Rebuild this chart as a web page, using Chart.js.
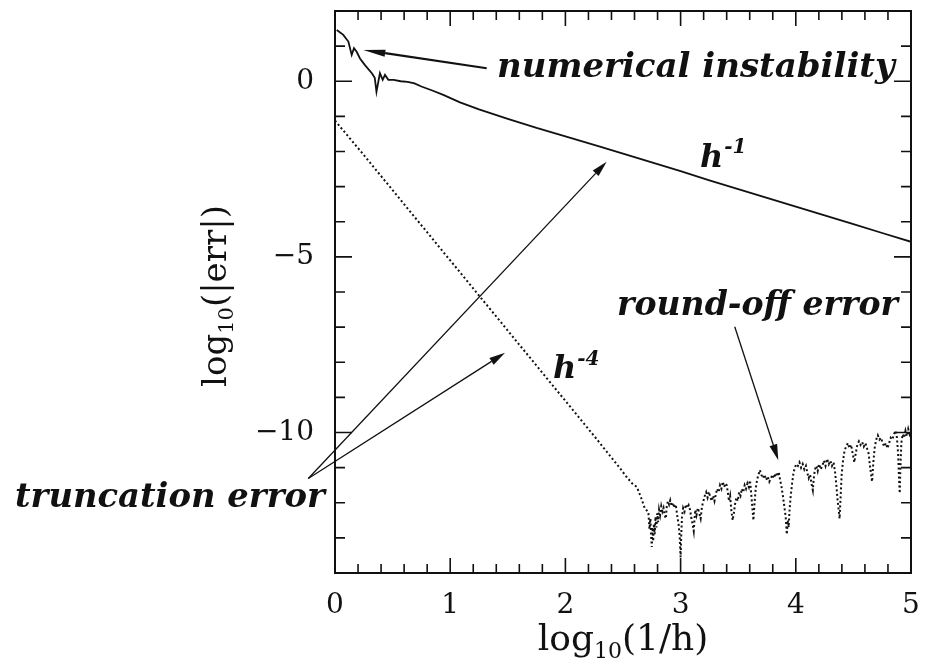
<!DOCTYPE html>
<html>
<head>
<meta charset="utf-8">
<script src="https://cdn.jsdelivr.net/npm/chart.js@4.4.0/dist/chart.umd.min.js"></script>
<style>
  html, body { margin: 0; padding: 0; background: #fff; }
</style>
</head>
<body>
<canvas id="err" width="927" height="665"></canvas>
<script>
// log10(1/h) vs log10(|err|) for two difference schemes

// first-order scheme: noisy start, then the h^-1 slope
const solidX = [0.015, 0.072, 0.116, 0.145, 0.165, 0.188, 0.217, 0.26, 0.32, 0.345, 0.36, 0.39, 0.414, 0.434, 0.463, 0.51, 0.57, 0.63, 0.69, 0.75, 0.85, 0.94, 1.085,
  1.25, 1.5, 1.75, 2.0, 2.3, 2.5, 2.75, 3.0, 3.25, 3.5, 3.75, 4.0, 4.25, 4.5, 4.75, 5.0];
const solidY = [1.46, 1.32, 1.13, 0.75, 0.94, 0.84, 0.65, 0.46, 0.23, 0.1, -0.30, 0.23, 0.04, 0.18, 0.04, 0.04, 0.0, -0.02, -0.06, -0.15, -0.27, -0.39, -0.60,
  -0.80, -1.07, -1.33, -1.57, -1.86, -2.06, -2.31, -2.56, -2.82, -3.07, -3.32, -3.57, -3.82, -4.07, -4.32, -4.57];

// fourth-order scheme: h^-4 slope ...
const slopeX = [0, 0.25, 0.5, 0.75, 1.0, 1.25, 1.5, 1.75, 2.0, 2.25, 2.47, 2.53, 2.58, 2.62, 2.66, 2.69];
const slopeY = [-1.12, -2.1, -3.1, -4.1, -5.1, -6.1, -7.1, -8.1, -9.1, -10.1, -11.0, -11.26, -11.45, -11.55, -11.88, -12.17];

// ... until round-off takes over
const noiseX = [2.720, 2.730, 2.738, 2.745, 2.750, 2.756, 2.762, 2.768, 2.775, 2.782, 2.790, 2.797, 2.805, 2.813, 2.822, 2.832, 2.842, 2.852, 2.862, 2.872,
  2.880, 2.890, 2.900, 2.910, 2.922, 2.934, 2.946, 2.958, 2.970, 2.982, 2.992, 3.000, 3.006, 3.012, 3.022, 3.034, 3.046, 3.058, 3.070, 3.082,
  3.094, 3.104, 3.114, 3.120, 3.128, 3.138, 3.150, 3.162, 3.174, 3.186, 3.198, 3.210, 3.222, 3.234, 3.246, 3.258, 3.270, 3.282, 3.294, 3.306,
  3.318, 3.330, 3.342, 3.354, 3.366, 3.378, 3.390, 3.400, 3.410, 3.420, 3.430, 3.440, 3.452, 3.462, 3.472, 3.484, 3.496, 3.508, 3.520, 3.532,
  3.544, 3.556, 3.568, 3.580, 3.592, 3.602, 3.612, 3.622, 3.632, 3.642, 3.652, 3.664, 3.676, 3.688, 3.700, 3.714, 3.728, 3.742, 3.756, 3.770,
  3.784, 3.798, 3.812, 3.826, 3.840, 3.852, 3.864, 3.876, 3.888, 3.900, 3.912, 3.922, 3.930, 3.938, 3.946, 3.956, 3.968, 3.980, 3.992, 4.004,
  4.018, 4.032, 4.046, 4.060, 4.074, 4.088, 4.100, 4.112, 4.124, 4.136, 4.148, 4.156, 4.166, 4.178, 4.190, 4.202, 4.216, 4.230, 4.244, 4.258,
  4.272, 4.286, 4.300, 4.314, 4.328, 4.340, 4.352, 4.362, 4.372, 4.380, 4.388, 4.398, 4.410, 4.424, 4.438, 4.452, 4.466, 4.480, 4.494, 4.508,
  4.520, 4.534, 4.548, 4.562, 4.576, 4.590, 4.604, 4.618, 4.632, 4.644, 4.654, 4.662, 4.672, 4.684, 4.698, 4.712, 4.726, 4.740, 4.754, 4.768,
  4.782, 4.796, 4.810, 4.824, 4.838, 4.852, 4.866, 4.878, 4.888, 4.896, 4.902, 4.908, 4.916, 4.928, 4.940, 4.952, 4.964, 4.976, 4.988, 5.000];
const noiseY = [-12.26, -12.75, -12.45, -13.0, -13.26, -12.7, -13.1, -12.6, -12.9, -12.4, -12.7, -12.3, -12.55, -12.2, -12.35, -12.1, -12.25, -12.15, -12.35, -12.45,
  -12.1, -11.95, -12.05, -11.93, -12.1, -12.0, -12.15, -12.05, -12.35, -12.6, -12.95, -13.55, -12.9, -12.4, -12.15, -12.25, -12.05, -12.15, -12.07, -12.2,
  -12.45, -12.6, -12.8, -12.5, -12.2, -12.35, -12.15, -12.3, -12.45, -12.1, -11.95, -11.8, -11.7, -11.85, -11.69, -11.85, -11.95, -11.8, -11.95, -11.75,
  -11.6, -11.7, -11.5, -11.6, -11.4, -11.55, -11.45, -11.5, -11.7, -11.95, -11.8, -12.2, -12.5, -12.3, -12.05, -11.85, -11.95, -11.7, -11.8, -11.6,
  -11.7, -11.5, -11.6, -11.45, -11.55, -11.36, -11.7, -12.1, -12.5, -12.0, -11.6, -11.35, -11.2, -11.07, -11.2, -11.3, -11.2, -11.35, -11.25, -11.4,
  -11.3, -11.2, -11.3, -11.15, -11.25, -11.12, -11.35, -11.55, -11.8, -12.1, -12.4, -12.9, -12.5, -12.7, -12.2, -11.8, -11.45, -11.15, -11.0, -10.9,
  -10.95, -10.85, -11.0, -10.9, -11.05, -10.95, -11.15, -11.3, -11.2, -11.45, -11.64, -11.3, -11.05, -10.95, -11.1, -10.9, -11.05, -10.95, -10.8, -10.95,
  -10.75, -10.9, -10.8, -10.95, -10.85, -11.1, -11.5, -11.9, -12.2, -12.45, -11.9, -11.2, -10.8, -10.5, -10.4, -10.3, -10.45, -10.35, -10.6, -10.85,
  -10.6, -10.35, -10.25, -10.35, -10.27, -10.4, -10.3, -10.45, -10.6, -10.95, -11.2, -11.4, -10.9, -10.45, -10.2, -10.08, -10.2, -10.15, -10.3, -10.4,
  -10.3, -10.45, -10.3, -10.15, -10.2, -10.05, -9.95, -10.15, -10.6, -11.3, -11.73, -11.0, -10.3, -10.05, -10.15, -9.95, -10.1, -9.9, -10.05, -9.95];

// tick values that carry a label
const xLabelValues = [0, 1, 2, 3, 4, 5];
const yLabelValues = [0, -5, -10];

const solidPts = solidX.map((x, i) => ({ x, y: solidY[i] }));
const dottedPts = slopeX.concat(noiseX).map((x, i) => ({ x, y: slopeY.concat(noiseY)[i] }));

const INK = '#111';
const SERIF = '"DejaVu Serif", "Liberation Serif", serif';

// callouts, anchored in data units
const notes = [
  { text: 'numerical instability', x: 1.406, y: 0.12, width: 398, size: 30 },
  { text: 'truncation error', x: -2.778, y: -12.12, width: 310, size: 30 },
  { text: 'round-off error', x: 2.448, y: -6.66, width: 281, size: 30 },
  { text: 'h', sup: '-1', x: 3.168, y: -2.43, size: 32 },
  { text: 'h', sup: '-4', x: 1.892, y: -8.45, size: 32 }
];
const arrows = [
  { from: [1.317, 0.37], to: [0.246, 0.89], width: 2.2, head: 22, half: 3.5 },
  { from: [-0.232, -11.31], to: [2.358, -2.29], width: 1.3, head: 16, half: 4 },
  { from: [-0.232, -11.31], to: [1.476, -7.73], width: 1.3, head: 16, half: 4 },
  { from: [3.47, -6.99], to: [3.848, -10.79], width: 1.3, head: 16, half: 4 }
];

function arrow(ctx, x0, y0, x1, y1, a) {
  const ang = Math.atan2(y1 - y0, x1 - x0);
  const bx = x1 - Math.cos(ang) * a.head, by = y1 - Math.sin(ang) * a.head;
  ctx.lineWidth = a.width;
  ctx.beginPath();
  ctx.moveTo(x0, y0);
  ctx.lineTo(bx, by);
  ctx.stroke();
  ctx.beginPath();
  ctx.moveTo(x1, y1);
  ctx.lineTo(bx + Math.sin(ang) * a.half, by - Math.cos(ang) * a.half);
  ctx.lineTo(bx - Math.sin(ang) * a.half, by + Math.cos(ang) * a.half);
  ctx.closePath();
  ctx.fill();
}

// text with a smaller lowered "10"
function logLabel(ctx, before, after, size) {
  const sub = Math.round(size * 0.62);
  ctx.font = size + 'px ' + SERIF;
  const w1 = ctx.measureText(before).width;
  const w3 = ctx.measureText(after).width;
  ctx.font = sub + 'px ' + SERIF;
  const w2 = ctx.measureText('10').width;
  const total = w1 + w2 + w3;
  let x = -total / 2;
  ctx.font = size + 'px ' + SERIF;
  ctx.fillText(before, x, 0);
  x += w1;
  ctx.font = sub + 'px ' + SERIF;
  ctx.fillText('10', x, size * 0.22);
  x += w2;
  ctx.font = size + 'px ' + SERIF;
  ctx.fillText(after, x, 0);
}

// drop the edge padding Chart.js reserves for labels, so the box sits where it should
function fitTo(s, key, val) {
  s[key] = val;
  s.paddingTop = s.paddingBottom = s.paddingLeft = s.paddingRight = 0;
}

const framePlugin = {
  id: 'frame',
  afterDraw(chart) {
    const { ctx, chartArea: a, scales } = chart;
    const sx = scales.x, sy = scales.y;
    ctx.save();
    ctx.strokeStyle = INK;
    ctx.fillStyle = INK;

    // box and inward ticks on all four sides
    ctx.lineWidth = 2;
    ctx.strokeRect(a.left, a.top, a.right - a.left, a.bottom - a.top);
    ctx.lineWidth = 1.6;
    ctx.beginPath();
    for (let i = 0; i <= 25; i++) {
      const px = sx.getPixelForValue(i / 5);
      const len = i % 5 === 0 ? 15 : 9;
      ctx.moveTo(px, a.bottom); ctx.lineTo(px, a.bottom - len);
      ctx.moveTo(px, a.top); ctx.lineTo(px, a.top + len);
    }
    for (let v = sy.min; v <= sy.max; v++) {
      const py = sy.getPixelForValue(v);
      const len = v % 5 === 0 ? 17 : 10;
      ctx.moveTo(a.left, py); ctx.lineTo(a.left + len, py);
      ctx.moveTo(a.right, py); ctx.lineTo(a.right - len, py);
    }
    ctx.stroke();

    // callout arrows
    arrows.forEach(ar => {
      arrow(ctx, sx.getPixelForValue(ar.from[0]), sy.getPixelForValue(ar.from[1]),
        sx.getPixelForValue(ar.to[0]), sy.getPixelForValue(ar.to[1]), ar);
    });

    // callout text
    ctx.textBaseline = 'alphabetic';
    ctx.textAlign = 'left';
    notes.forEach(n => {
      const px = sx.getPixelForValue(n.x), py = sy.getPixelForValue(n.y);
      let size = n.size;
      ctx.font = 'italic bold ' + size + 'px ' + SERIF;
      if (n.width) {
        size = size * n.width / ctx.measureText(n.text).width;
        ctx.font = 'italic bold ' + size + 'px ' + SERIF;
      }
      ctx.fillText(n.text, px, py);
      if (n.sup) {
        const w = ctx.measureText(n.text).width;
        ctx.font = 'italic bold ' + Math.round(size * 0.62) + 'px ' + SERIF;
        ctx.fillText(n.sup, px + w + 1, py - size * 0.42);
      }
    });

    // axis titles
    ctx.save();
    ctx.translate((a.left + a.right) / 2, 650);
    logLabel(ctx, 'log', '(1/h)', 36);
    ctx.restore();
    ctx.save();
    ctx.translate(226, (a.top + a.bottom) / 2 + 4);
    ctx.rotate(-Math.PI / 2);
    logLabel(ctx, 'log', '(|err|)', 34);
    ctx.restore();

    ctx.restore();
  }
};

new Chart(document.getElementById('err'), {
  type: 'line',
  data: {
    datasets: [
      { label: 'h^-1', data: solidPts, borderColor: INK, borderWidth: 1.8, pointRadius: 0, tension: 0 },
      { label: 'h^-4', data: dottedPts, borderColor: INK, borderWidth: 2, borderDash: [2, 2.5], pointRadius: 0, tension: 0 }
    ]
  },
  options: {
    responsive: false,
    animation: false,
    layout: { padding: { top: 11, right: 16, left: 0, bottom: 0 } },
    plugins: { legend: { display: false }, tooltip: { enabled: false } },
    scales: {
      x: {
        type: 'linear', min: 0, max: 5,
        grid: { display: false }, border: { display: false },
        ticks: {
          stepSize: 1, padding: 8, color: INK, maxRotation: 0,
          font: { family: SERIF, size: 28 },
          callback: v => xLabelValues.includes(v) ? String(v) : null
        },
        afterFit: s => fitTo(s, 'height', 92)
      },
      y: {
        type: 'linear', min: -14, max: 2,
        grid: { display: false }, border: { display: false },
        ticks: {
          stepSize: 1, padding: 13, color: INK,
          font: { family: SERIF, size: 28 },
          callback: v => yLabelValues.includes(v) ? (v < 0 ? '\u2212' + Math.abs(v) : String(v)) : null
        },
        afterFit: s => fitTo(s, 'width', 335)
      }
    }
  },
  plugins: [framePlugin]
});
</script>
</body>
</html>
